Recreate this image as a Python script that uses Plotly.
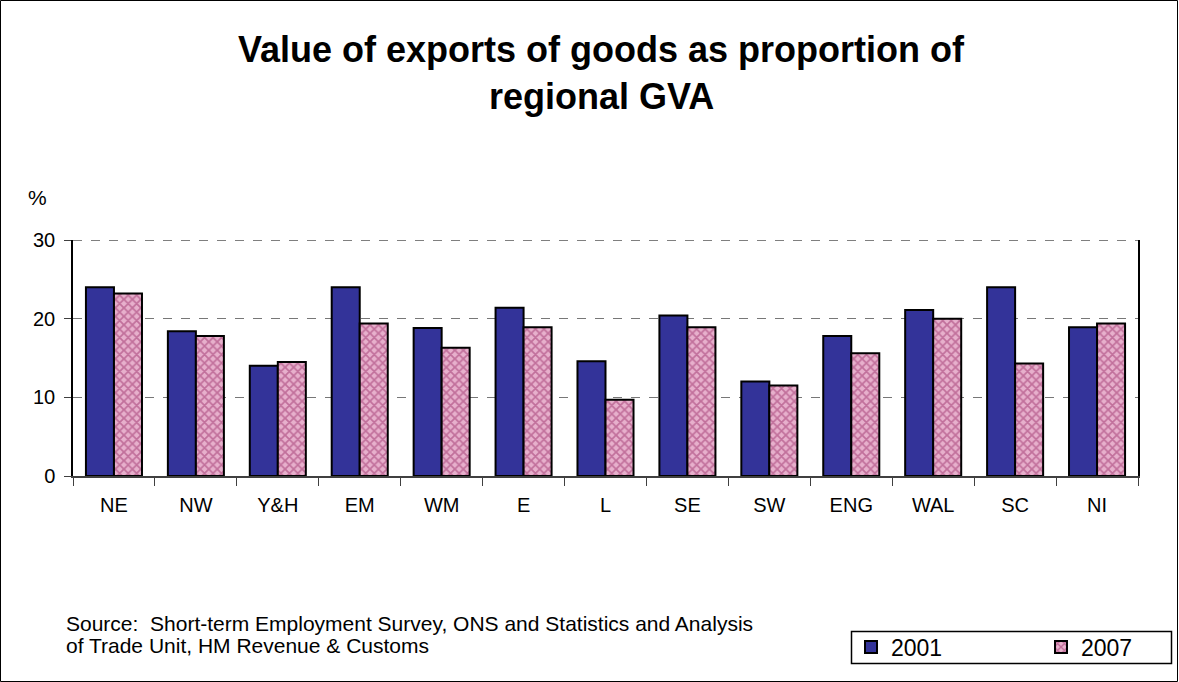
import plotly.graph_objects as go

regions = ["NE", "NW", "Y&H", "EM", "WM", "E", "L", "SE", "SW", "ENG", "WAL", "SC", "NI"]
v2001 = [24.0, 18.4, 14.0, 24.0, 18.8, 21.4, 14.6, 20.4, 12.0, 17.8, 21.1, 24.0, 18.9]
v2007 = [23.2, 17.8, 14.5, 19.4, 16.3, 18.9, 9.7, 18.9, 11.5, 15.6, 20.0, 14.3, 19.4]
y_ticks = [0, 10, 20, 30]

FONT = "Liberation Sans, Arial, sans-serif"

fig = go.Figure()
fig.add_trace(go.Bar(
    x=regions, y=v2001, name="2001",
    marker=dict(color="#333399", line=dict(color="black", width=2)),
))
fig.add_trace(go.Bar(
    x=regions, y=v2007, name="2007",
    marker=dict(color="#e7b0cc", line=dict(color="black", width=2),
                pattern=dict(shape="x", size=6, solidity=0.5,
                             fgcolor="#9c2f6a", bgcolor="#e7b0cc")),
))

L, R, T, B = 73, 41, 240, 206
W, H = 1179, 682
pw, ph = W - L - R, H - T - B

def px_x(p):
    return (p - L) / pw

def px_y(p):
    return (H - B - p) / ph

fig.update_layout(
    width=W, height=H,
    margin=dict(l=L, r=R, t=T, b=B, autoexpand=False),
    paper_bgcolor="white", plot_bgcolor="white",
    barmode="group", bargap=0.316, bargroupgap=0,
    font=dict(family=FONT, color="black"),
    showlegend=True,
    legend=dict(orientation="h", x=px_x(851), xanchor="left",
                y=px_y(647), yanchor="middle",
                borderwidth=0, bgcolor="rgba(0,0,0,0)",
                font=dict(size=23, family=FONT),
                entrywidth=145, entrywidthmode="pixels",
                itemsizing="constant"),
    xaxis=dict(showline=True, linecolor="#404040", linewidth=2,
               ticks="outside", tickson="boundaries", ticklen=8,
               tickcolor="#404040", tickfont=dict(size=20, family=FONT),
               ticklabelstandoff=10, showgrid=False),
    yaxis=dict(range=[0, 30], tickvals=y_ticks, ticks="outside", ticklen=7,
               tickcolor="#404040", showline=True, linecolor="black", linewidth=1.5,
               mirror=True, tickfont=dict(size=20, family=FONT),
               ticklabelstandoff=5,
               showgrid=True, gridcolor="#777", griddash="dash", gridwidth=1,
               zeroline=False),
    annotations=[
        dict(text="<b>Value of exports of goods as proportion of</b>",
             xref="paper", yref="paper", x=px_x(601), y=px_y(50),
             xanchor="center", yanchor="middle", showarrow=False,
             font=dict(size=36, family=FONT)),
        dict(text="<b>regional GVA</b>",
             xref="paper", yref="paper", x=px_x(601), y=px_y(96),
             xanchor="center", yanchor="middle", showarrow=False,
             font=dict(size=36, family=FONT)),
        dict(text="%", xref="paper", yref="paper", x=px_x(26), y=px_y(197),
             xanchor="left", yanchor="middle", showarrow=False,
             font=dict(size=21, family=FONT)),
        dict(text="Source:  Short-term Employment Survey, ONS and Statistics and Analysis",
             xref="paper", yref="paper", x=px_x(64), y=px_y(623),
             xanchor="left", yanchor="middle", align="left", showarrow=False,
             font=dict(size=21, family=FONT)),
        dict(text="of Trade Unit, HM Revenue & Customs",
             xref="paper", yref="paper", x=px_x(64), y=px_y(645),
             xanchor="left", yanchor="middle", align="left", showarrow=False,
             font=dict(size=21, family=FONT)),
    ],
    shapes=[
        dict(type="rect", xref="paper", yref="paper",
             x0=px_x(0.5), x1=px_x(1177.5), y0=px_y(681.5), y1=px_y(0.5),
             line=dict(color="black", width=1), layer="below"),
        dict(type="rect", xref="paper", yref="paper",
             x0=px_x(851.5), x1=px_x(1171.5), y0=px_y(663.5), y1=px_y(631.5),
             line=dict(color="black", width=1.5), layer="below"),
        dict(type="line", xref="paper", yref="y",
             x0=0, x1=1, y0=max(y_ticks), y1=max(y_ticks),
             line=dict(color="#555", width=1.5, dash="dash"), layer="above"),
    ],
)

fig.write_html("out.html", config={"displayModeBar": False},
               post_script="document.body.style.margin='0';document.body.style.overflow='hidden';")
